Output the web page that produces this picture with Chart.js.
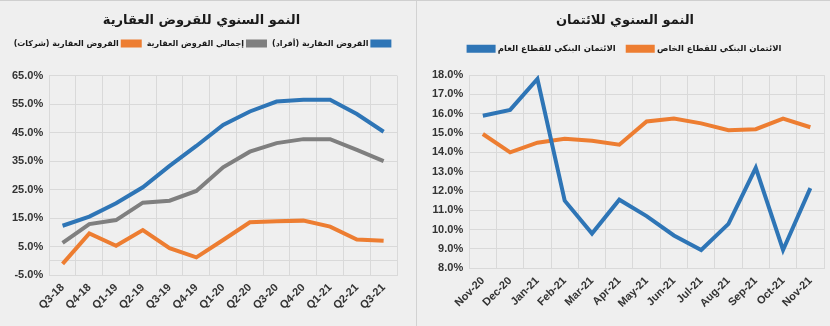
<!DOCTYPE html>
<html>
<head>
<meta charset="utf-8">
<script src="https://cdn.jsdelivr.net/npm/chart.js@4.4.1/dist/chart.umd.min.js"></script>
<style>
  body { margin: 0; background: #efefef; }
  .wrap { display: flex; width: 830px; height: 326px; border-top: 1px solid #cfcfcf; box-sizing: border-box; }
  .panel { position: relative; height: 325px; }
  #left { width: 416px; border-right: 1px solid #d2d2d2; }
  #right { width: 413px; }
</style>
</head>
<body>
<div class="wrap">
  <div class="panel" id="left"><canvas id="mortgageChart"></canvas></div>
  <div class="panel" id="right"><canvas id="creditChart"></canvas></div>
</div>
<script>
// left panel: annual growth of real estate loans
const quarters = ['Q3-18', 'Q4-18', 'Q1-19', 'Q2-19', 'Q3-19', 'Q4-19', 'Q1-20', 'Q2-20', 'Q3-20', 'Q4-20', 'Q1-21', 'Q2-21', 'Q3-21'];
const retailLoans = [12.3, 15.5, 20.2, 25.8, 33.3, 40.3, 47.7, 52.4, 55.9, 56.5, 56.5, 51.5, 45.3];
const totalLoans = [6.3, 12.9, 14.3, 20.4, 21.1, 24.5, 32.8, 38.3, 41.3, 42.7, 42.7, 38.9, 35.0];
const corporateLoans = [-1.1, 9.6, 5.3, 10.8, 4.4, 1.2, 7.3, 13.5, 13.9, 14.1, 12.0, 7.5, 7.0];

// right panel: annual growth of bank credit
const months = ['Nov-20', 'Dec-20', 'Jan-21', 'Feb-21', 'Mar-21', 'Apr-21', 'May-21', 'Jun-21', 'Jul-21', 'Aug-21', 'Sep-21', 'Oct-21', 'Nov-21'];
const publicCredit = [15.9, 16.2, 17.8, 11.5, 9.8, 11.55, 10.7, 9.7, 8.95, 10.3, 13.2, 8.95, 12.15];
const privateCredit = [14.95, 14.0, 14.5, 14.7, 14.6, 14.4, 15.6, 15.75, 15.5, 15.15, 15.2, 15.75, 15.3];

const BLUE = '#2e75b6';
const ORANGE = '#ed7d31';
const GRAY = '#7f7f7f';
const GRID = '#d9d9d9';
const TEXT = '#333333';
const LRM = '\u200E';
const tickFont = { family: 'Liberation Sans', size: 11, weight: 'bold' };
const arabicFont = 'DejaVu Sans';

Chart.defaults.color = TEXT;
Chart.defaults.maintainAspectRatio = false;
Chart.defaults.animation = false;

// extra space under the legend, like the Excel original
function legendMargin(extra) {
    return {
        id: 'legendMargin',
        beforeInit(chart) {
            const fit = chart.legend.fit;
            chart.legend.fit = function () {
                fit.bind(chart.legend)();
                this.height += extra;
            };
        }
    };
}

function line(label, data, color) {
    return {
        label: label,
        data: data,
        borderColor: color,
        backgroundColor: color,
        borderWidth: 4,
        pointRadius: 0,
        tension: 0,
        fill: false
    };
}

function xScale() {
    return {
        offset: true,
        grid: { offset: true, color: GRID, drawTicks: false },
        border: { color: GRID },
        ticks: { font: tickFont, color: TEXT, maxRotation: 45, minRotation: 45, padding: 6, autoSkip: false }
    };
}

function titleOpts(text) {
    return {
        display: true,
        text: text,
        color: '#1a1a1a',
        font: { family: arabicFont, size: 13, weight: 'bold' },
        padding: { top: 6, bottom: 4 }
    };
}

new Chart(document.getElementById('mortgageChart'), {
    type: 'line',
    data: {
        labels: quarters,
        datasets: [
            line('القروض العقارية (أفراد)', retailLoans, BLUE),
            line('إجمالي القروض العقارية', totalLoans, GRAY),
            line('القروض العقارية (شركات)', corporateLoans, ORANGE)
        ]
    },
    options: {
        layout: { padding: { left: 6, right: 19, top: 6, bottom: 8 } },
        plugins: {
            title: titleOpts('النمو السنوي للقروض العقارية'),
            legend: {
                rtl: true,
                textDirection: 'rtl',
                labels: {
                    boxWidth: 17,
                    boxHeight: 4,
                    padding: 7,
                    color: '#1a1a1a',
                    font: { family: arabicFont, size: 8, weight: 'bold' }
                }
            },
            tooltip: { enabled: false }
        },
        scales: {
            x: xScale(),
            y: {
                min: -5,
                max: 65,
                grid: {
                    drawTicks: false,
                    color: ctx => {
                        const v = ctx.tick.value;
                        return (v === 0 || Math.abs(v % 10) === 5) ? GRID : 'rgba(0,0,0,0)';
                    }
                },
                border: { color: GRID },
                ticks: {
                    stepSize: 5,
                    autoSkip: false,
                    padding: 6,
                    font: tickFont,
                    color: TEXT,
                    callback: v => Math.abs(v % 10) === 5 ? LRM + v.toFixed(1) + '%' : ''
                }
            }
        }
    },
    plugins: [legendMargin(18)]
});

new Chart(document.getElementById('creditChart'), {
    type: 'line',
    data: {
        labels: months,
        datasets: [
            line('الائتمان البنكي للقطاع العام', publicCredit, BLUE),
            line('الائتمان البنكي للقطاع الخاص', privateCredit, ORANGE)
        ]
    },
    options: {
        layout: { padding: { left: 9, right: 6, top: 6, bottom: 10 } },
        plugins: {
            title: titleOpts('النمو السنوي للائتمان'),
            legend: {
                labels: {
                    boxWidth: 25,
                    boxHeight: 4,
                    padding: 12,
                    color: '#1a1a1a',
                    font: { family: arabicFont, size: 8.5, weight: 'bold' }
                }
            },
            tooltip: { enabled: false }
        },
        scales: {
            x: xScale(),
            y: {
                min: 8,
                max: 18,
                grid: { color: GRID, drawTicks: false },
                border: { color: GRID },
                ticks: {
                    stepSize: 1,
                    autoSkip: false,
                    padding: 6,
                    font: tickFont,
                    color: TEXT,
                    callback: v => v.toFixed(1) + '%'
                }
            }
        }
    },
    plugins: [legendMargin(12)]
});
</script>
</body>
</html>
